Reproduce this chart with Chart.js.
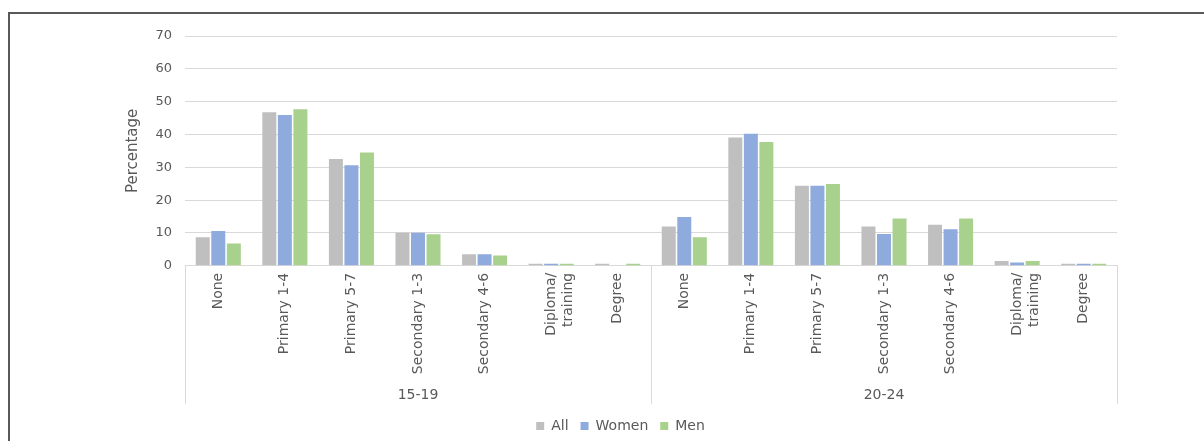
<!DOCTYPE html>
<html>
<head>
<meta charset="utf-8">
<script src="https://cdn.jsdelivr.net/npm/chart.js@4"></script>
<style>
  html, body { margin: 0; padding: 0; background: #fff; }
  #wrap { position: relative; width: 1204px; height: 441px; overflow: hidden; }
  #frame { position: absolute; left: 8px; top: 12px; width: 1400px; height: 600px;
           border-left: 2px solid #595959; border-top: 2px solid #595959; }
  #c { position: absolute; left: 0; top: 0; }
</style>
</head>
<body>
<div id="wrap">
  <div id="frame"></div>
  <canvas id="c" width="1204" height="443"></canvas>
</div>
<script>
// Education level attained, by age group and sex (%)
const ageGroups = ['15-19', '20-24'];
const levels = ['None', 'Primary 1-4', 'Primary 5-7', 'Secondary 1-3', 'Secondary 4-6', ['Diploma/', 'training'], 'Degree'];
const seriesNames = ['All', 'Women', 'Men'];
const allValues   = [8.7, 46.8, 32.5, 10.1, 3.5, 0.6, 0.6,   12.0, 39.1, 24.4, 12.0, 12.5, 1.5, 0.6];
const womenValues = [10.6, 45.9, 30.6, 10.1, 3.5, 0.6, 0.0,  14.9, 40.2, 24.4, 9.7, 11.1, 1.0, 0.6];
const menValues   = [6.8, 47.7, 34.5, 9.6, 3.1, 0.6, 0.6,    8.7, 37.7, 24.9, 14.4, 14.4, 1.5, 0.6];
const yTickValues = [0, 10, 20, 30, 40, 50, 60, 70];

const TEXT = '#595959';
const GRID = '#d9d9d9';
const FONT = '"DejaVu Sans", sans-serif';

// one category per level in each age group
const labels = ageGroups.flatMap(() => levels);

// vertical dividers and age-group captions under the category labels
const ageGroupAxis = {
  id: 'ageGroupAxis',
  afterDraw(chart) {
    const { ctx, chartArea } = chart;
    const x = chart.scales.x;
    const n = levels.length;
    ctx.save();
    ctx.strokeStyle = GRID;
    ctx.lineWidth = 1;
    const y0 = chartArea.bottom;
    const y1 = chartArea.bottom + 138;
    for (let g = 0; g <= ageGroups.length; g++) {
      let px;
      if (g === 0) px = x.left;
      else if (g === ageGroups.length) px = x.right;
      else px = (x.getPixelForValue(g * n - 1) + x.getPixelForValue(g * n)) / 2;
      px = Math.round(px) + 0.5;
      ctx.beginPath();
      ctx.moveTo(px, y0);
      ctx.lineTo(px, y1);
      ctx.stroke();
    }
    ctx.fillStyle = TEXT;
    ctx.font = '14px ' + FONT;
    ctx.textAlign = 'center';
    ctx.textBaseline = 'middle';
    ageGroups.forEach((name, i) => {
      const cx = (x.getPixelForValue(i * n) + x.getPixelForValue(i * n + n - 1)) / 2;
      ctx.fillText(name, cx, y0 + 130);
    });
    ctx.restore();
  }
};

new Chart(document.getElementById('c'), {
  type: 'bar',
  data: {
    labels: labels,
    datasets: [
      { label: seriesNames[0], data: allValues,   backgroundColor: '#bfbfbf' },
      { label: seriesNames[1], data: womenValues, backgroundColor: '#8faadc' },
      { label: seriesNames[2], data: menValues,   backgroundColor: '#a9d18e' }
    ]
  },
  options: {
    responsive: false,
    animation: false,
    devicePixelRatio: 1,
    layout: { padding: { left: 124, right: 87, top: 36, bottom: 0 } },
    datasets: { bar: { categoryPercentage: 0.7, barPercentage: 0.9 } },
    plugins: {
      legend: {
        position: 'bottom',
        labels: {
          boxWidth: 8, boxHeight: 8, padding: 12,
          color: TEXT, font: { family: FONT, size: 14 }
        }
      },
      tooltip: { enabled: false }
    },
    scales: {
      x: {
        grid: { display: false, drawTicks: false },
        border: { display: true, color: GRID, width: 1 },
        ticks: {
          autoSkip: false, maxRotation: 90, minRotation: 90, padding: 7,
          color: TEXT, font: { family: FONT, size: 14 }
        },
        afterFit(scale) { scale.height = 141.2; }
      },
      y: {
        min: 0, max: 70,
        afterBuildTicks(scale) { scale.ticks = yTickValues.map(v => ({ value: v })); },
        grid: { color: GRID, lineWidth: 1, drawTicks: false },
        border: { display: false },
        ticks: { padding: 13, color: TEXT, font: { family: FONT, size: 13 } },
        title: {
          display: true, text: 'Percentage', color: TEXT,
          font: { family: FONT, size: 15 }, padding: { top: 0, bottom: 0 }
        },
        afterFit(scale) { scale.width = 61; }
      }
    }
  },
  plugins: [ageGroupAxis]
});
</script>
</body>
</html>
